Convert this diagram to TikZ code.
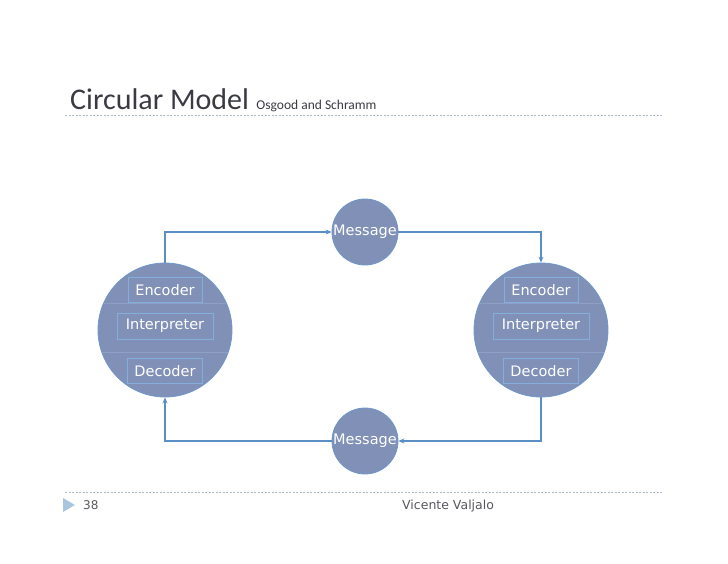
\documentclass[tikz,border=0pt]{standalone}
\usepackage{fontspec}
\setmainfont{Carlito}
\newfontfamily\shapefont{DejaVu Sans}
\usetikzlibrary{arrows.meta,positioning}
\definecolor{mCircle}{HTML}{8190B7}
\definecolor{mEdge}{HTML}{6E97C9}
\definecolor{mBox}{HTML}{84AEDC}
\definecolor{mGrid}{HTML}{8FA0C6}
\definecolor{mArrow}{HTML}{5A8FC6}
\definecolor{mTitle}{HTML}{3A3A42}
\definecolor{mRule}{HTML}{A9BCCB}
\definecolor{mMark}{HTML}{A8C6DD}

\begin{document}
\begin{tikzpicture}[x=1pt, y=-1pt,
     party/.style={circle, draw=mEdge, fill=mCircle, line width=0.8pt,
                   minimum size=134pt, inner sep=0pt},
     msg/.style={circle, draw=mEdge, fill=mCircle, line width=0.8pt,
                 minimum size=66pt, inner sep=0pt, text=white,
                 font=\shapefont\fontsize{14.5}{16}\selectfont},
     part/.style={draw=mBox, line width=0.8pt, minimum height=25pt,
                  inner sep=0pt, text=white, font=\shapefont\fontsize{14.5}{16}\selectfont},
     rule/.style={draw=mRule, line width=0.7pt, dash pattern=on 2pt off 1.5pt},
     arr/.style={-{Stealth[length=6pt, width=5pt]}, line width=1.1pt, draw=mArrow}]
     \useasboundingbox (0,0) rectangle (728,563);
     % heading
     \node[anchor=base west, inner sep=0pt, text=mTitle, font=\fontsize{30}{32}\selectfont] (title) at (70,109) {Circular Model};
     \node[anchor=base west, inner sep=0pt, text=mTitle, font=\fontsize{13.5}{14}\selectfont] (subtitle) at ([xshift=7pt]title.base east) {Osgood and Schramm};
     \coordinate (tl) at (65,115); \coordinate (tr) at (663,115);
     \draw[rule] (tl) -- (tr);
     % the two parties
     \node[party] (sndr) at (165,330) {};
     \node[party] (rcvr) at (541,330) {};
     \foreach \p in {sndr,rcvr}{
       \begin{scope}
         \clip (\p) circle (66.6pt);
         \draw[mGrid, line width=0.8pt] ([yshift=27pt]\p.west) -- ([yshift=27pt]\p.east);
         \draw[mGrid, line width=0.8pt] ([yshift=-22pt]\p.west) -- ([yshift=-22pt]\p.east);
       \end{scope}
     }
     \node[part, minimum width=96pt, minimum height=26pt] (sint) at ([yshift=4pt]sndr.center) {Interpreter};
     \node[part, minimum width=74pt, above=10pt of sint] (senc) {Encoder};
     \node[part, minimum width=75pt, below=19pt of sint] (sdec) {Decoder};
     \node[part, minimum width=96pt, minimum height=26pt] (rint) at ([yshift=4pt]rcvr.center) {Interpreter};
     \node[part, minimum width=74pt, above=10pt of rint] (renc) {Encoder};
     \node[part, minimum width=75pt, below=19pt of rint] (rdec) {Decoder};
     % messages
     \node[msg] (mtop) at (365,232) {Message};
     \node[msg] (mbot) at (365,441) {Message};
     \draw[arr] (sndr.north) |- (mtop.west);
     \draw[arr] (mtop.east) -| (rcvr.north);
     \draw[arr] (rcvr.south) |- (mbot.east);
     \draw[arr] (mbot.west) -| (sndr.south);
     % footer
     \coordinate (bl) at (65,492); \coordinate (br) at (663,492);
     \draw[rule] (bl) -- (br);
     \fill[mMark] (63,498) -- (75,505) -- (63,512) -- cycle;
     \node[anchor=base west, inner sep=0pt, text=mTitle!85, font=\shapefont\fontsize{12}{13}\selectfont] (page) at (83,509) {38};
     \node[anchor=base west, inner sep=0pt, text=mTitle!85, font=\shapefont\fontsize{12.5}{13}\selectfont] (author) at (402,509) {Vicente Valjalo};
  \end{tikzpicture}
\end{document}
